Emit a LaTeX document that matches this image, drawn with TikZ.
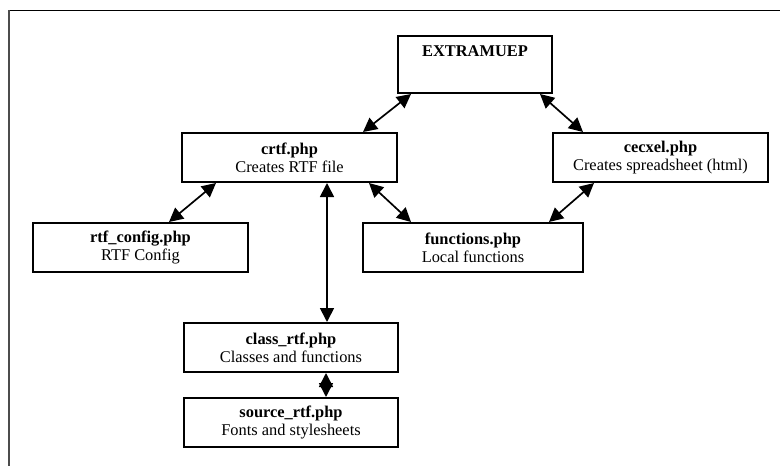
\documentclass[tikz,border=0pt]{standalone}
\usepackage{fontspec}
\setmainfont{Liberation Serif}
\usetikzlibrary{arrows.meta}
\tikzset{
  box/.style={draw=black, line width=2pt, rectangle, align=center, inner sep=0pt,
    minimum height=49pt, font=\fontsize{16.4}{18}\selectfont},
  link/.style={line width=1.7pt, {Triangle[length=14pt,width=14pt]}-{Triangle[length=14pt,width=14pt]}},
  frameline/.style={line width=1pt}
}
\begin{document}
\begin{tikzpicture}[x=1pt,y=-1pt]
\useasboundingbox (0,0) rectangle (780,466);
% frame (top and left only)
\draw[frameline] (9,10) -- (780,10);
\draw[line width=1.6pt, black!70] (9,10) -- (9,466);

% boxes
\node[box, minimum width=154pt, minimum height=57pt] (ext) at (475,64.5) {};
\node[anchor=north, inner sep=0pt, font=\fontsize{16.4}{18}\selectfont\bfseries] (extlabel) at ([yshift=-10.5pt]ext.north) {EXTRAMUEP};
\node[box, minimum width=215pt] (crtf) at (289.5,157.5) {\textbf{crtf.php}\\Creates RTF file};
\node[box, minimum width=215pt] (cecxel) at (660.5,157.5) {\textbf{cecxel.php}\\Creates spreadsheet (html)};
\node[box, minimum width=215pt] (rtfc) at (140.5,247.5) {\textbf{rtf\_config.php}\\RTF Config};
\node[box, minimum width=220pt] (func) at (473,247.5) {\textbf{functions.php}\\Local functions};
\node[box, minimum width=214pt] (cls) at (291,347.5) {\textbf{class\_rtf.php}\\Classes and functions};
\node[box, minimum width=214pt] (src) at (291,422.5) {\textbf{source\_rtf.php}\\Fonts and stylesheets};

% connectors
\draw[link] ([xshift=14pt]ext.south west) -- ([xshift=182pt]crtf.north west);
\draw[link] ([xshift=-13pt]ext.south east) -- ([xshift=31pt]cecxel.north west);
\draw[link] ([xshift=35pt]crtf.south west) -- ([xshift=137pt]rtfc.north west);
\draw[link] ([xshift=-29pt]crtf.south east) -- ([xshift=49pt]func.north west);
\draw[link] ([xshift=42pt]cecxel.south west) -- ([xshift=-35pt]func.north east);
\draw[link] ([xshift=146pt]crtf.south west) -- ([xshift=144pt]cls.north west);
\draw[link] ([xshift=143pt]cls.south west) -- ([xshift=143pt]src.north west);
\end{tikzpicture}
\end{document}
